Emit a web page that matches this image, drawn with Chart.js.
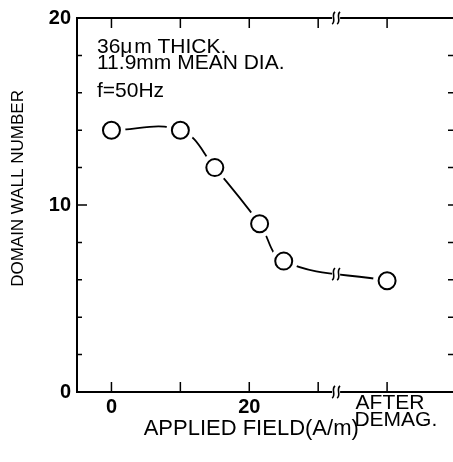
<!DOCTYPE html>
<html>
<head>
<meta charset="utf-8">
<script src="https://cdn.jsdelivr.net/npm/chart.js@4/dist/chart.umd.min.js"></script>
<style>
  html, body { margin: 0; padding: 0; background: #fff; overflow: hidden; }
  /* canvas is wider than the window so the right frame line falls off the edge, like the scan */
  canvas { display: block; }
</style>
</head>
<body>
<canvas id="wallChart" width="471" height="462"></canvas>
<script>
const FIELD = [0, 10, 15, 21.5, 25, 40];
const WALLS = [14, 14, 12, 9, 7, 5.95];
const X_LABELS = { 0: "0", 20: "20", 40: [" AFTER", "   DEMAG."] };
const Y_LABELED = [0, 10, 20];
const NOTE_LINES = ["36\u03bc\u200am THICK.", "11.9mm MEAN DIA.", "f=50Hz"];
const AXIS_BREAK = 32.6;
const AREA_RIGHT = 456;

const FONT = "'Liberation Sans', Arial, Helvetica, sans-serif";
Chart.defaults.font.family = FONT;
Chart.defaults.color = "#000";

const points = FIELD.map((f, i) => ({ x: f, y: WALLS[i] }));

function drawBreak(ctx, x, y) {
  ctx.save();
  ctx.fillStyle = "#fff";
  ctx.fillRect(x - 4, y - 2.5, 8, 5);
  ctx.strokeStyle = "#000";
  ctx.lineWidth = 1.6;
  [-2.5, 2.5].forEach(dx => {
    const cx = x + dx;
    ctx.beginPath();
    ctx.moveTo(cx + 1.5, y - 6);
    ctx.bezierCurveTo(cx - 3, y - 3, cx + 3, y + 3, cx - 1.5, y + 6);
    ctx.stroke();
  });
  ctx.restore();
}

const framePlugin = {
  id: "frame",
  beforeDatasetsDraw(chart) {
    const { ctx, chartArea: a, scales: { x, y } } = chart;
    ctx.save();
    ctx.strokeStyle = "#000";
    ctx.lineWidth = 2;
    ctx.strokeRect(a.left, a.top, a.right - a.left, a.bottom - a.top);

    ctx.lineWidth = 1.5;
    ctx.beginPath();
    x.ticks.forEach(t => {
      if (t.value < 0 || t.value > 40) return;
      const px = x.getPixelForValue(t.value);
      ctx.moveTo(px, a.bottom);
      ctx.lineTo(px, a.bottom - 10);
      ctx.moveTo(px, a.top);
      ctx.lineTo(px, a.top + 10);
    });
    y.ticks.forEach(t => {
      const py = y.getPixelForValue(t.value);
      const len = Y_LABELED.includes(t.value) ? 10 : 5;
      ctx.moveTo(a.left, py);
      ctx.lineTo(a.left + len, py);
      ctx.moveTo(a.right, py);
      ctx.lineTo(a.right - 8, py);
    });
    ctx.stroke();
    ctx.restore();
  },
  afterDatasetsDraw(chart) {
    const { ctx, chartArea: a, scales: { x } } = chart;
    const bx = x.getPixelForValue(AXIS_BREAK);
    drawBreak(ctx, bx, a.bottom);
    drawBreak(ctx, bx, a.top);

    // break on the curve itself
    const line = chart.getDatasetMeta(0).dataset;
    let p = line.interpolate({ x: bx }, "x");
    if (Array.isArray(p)) p = p[0];
    if (p) drawBreak(ctx, bx, p.y);

    // the note in the upper left
    ctx.save();
    ctx.fillStyle = "#000";
    ctx.font = "21px " + FONT;
    ctx.textBaseline = "alphabetic";
    ctx.fillText(NOTE_LINES[0], a.left + 20, a.top + 35);
    ctx.fillText(NOTE_LINES[1], a.left + 20, a.top + 51);
    ctx.fillText(NOTE_LINES[2], a.left + 20, a.top + 79);
    ctx.restore();
  }
};

const chart = new Chart(document.getElementById("wallChart"), {
  type: "scatter",
  data: {
    datasets: [
      {
        data: points,
        showLine: true,
        tension: 0.4,
        borderColor: "#000",
        borderWidth: 1.8,
        pointRadius: 0,
        order: 3
      },
      {
        // white halo so the curve stops short of each circle
        data: points,
        pointRadius: 14,
        pointBackgroundColor: "#fff",
        pointBorderWidth: 0,
        order: 2
      },
      {
        data: points,
        pointRadius: 8.5,
        pointBackgroundColor: "#fff",
        pointBorderColor: "#000",
        pointBorderWidth: 2,
        order: 1
      }
    ]
  },
  options: {
    responsive: false,
    maintainAspectRatio: false,
    animation: false,
    events: [],
    layout: { padding: { top: 18, right: 2, left: 0, bottom: 0 } },
    plugins: { legend: { display: false }, tooltip: { enabled: false } },
    scales: {
      x: {
        type: "linear",
        min: -5,
        max: 50,
        grid: { display: false, drawTicks: false },
        border: { display: false },
        ticks: {
          stepSize: 10,
          includeBounds: false,
          autoSkip: false,
          maxRotation: 0,
          padding: 3,
          font: ctx => ctx.tick && ctx.tick.value === 40
            ? { size: 21, lineHeight: 0.8 }
            : { size: 20, weight: "bold" },
          callback: v => X_LABELS[v] ?? ""
        },
        title: {
          display: true,
          text: "APPLIED FIELD(A/m)     ",
          font: { size: 22 },
          padding: { top: 0, bottom: 20 }
        },
        afterFit: scale => { scale.height = 70; }
      },
      y: {
        min: 0,
        max: 20,
        grid: { display: false, drawTicks: false },
        border: { display: false },
        ticks: {
          stepSize: 2,
          padding: 6,
          font: { size: 20, weight: "bold" },
          callback: v => Y_LABELED.includes(v) ? String(v) : ""
        },
        title: {
          display: true,
          text: "       DOMAIN WALL NUMBER",
          font: { size: 17 },
          padding: { top: 8, bottom: 0 }
        },
        afterFit: scale => { scale.width = 77; }
      }
    }
  },
  plugins: [framePlugin]
});

// the x scale keeps some label room on the right; size the canvas so the plot edge lands just off-screen
const miss = AREA_RIGHT - chart.chartArea.right;
if (Math.abs(miss) > 0.5) chart.resize(chart.width + miss, chart.height);
</script>
</body>
</html>
